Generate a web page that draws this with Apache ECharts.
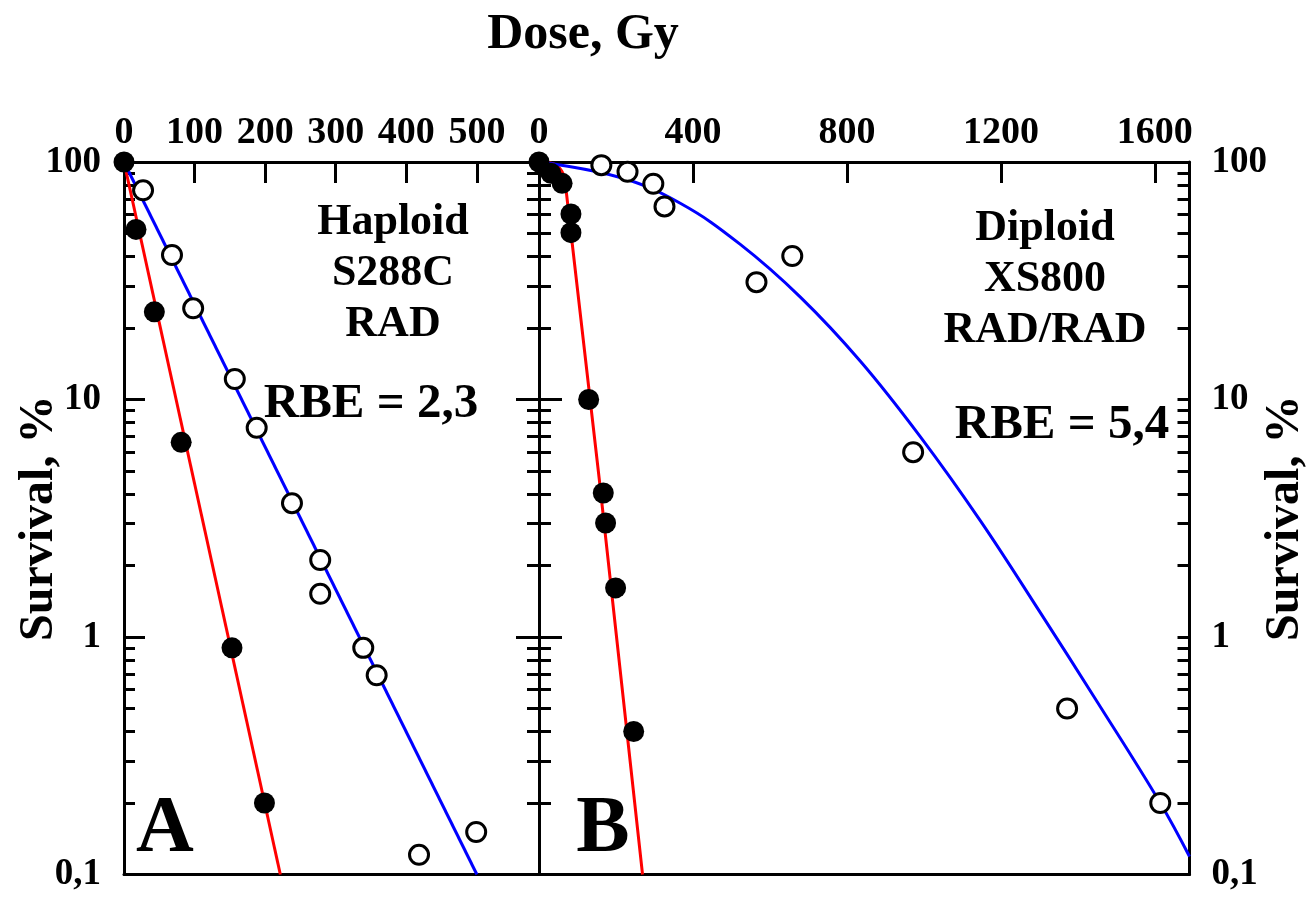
<!DOCTYPE html>
<html><head><meta charset="utf-8">
<script src="https://cdn.jsdelivr.net/npm/echarts@6/dist/echarts.min.js"></script>
<style>html,body{margin:0;padding:0;background:#fff}#c{width:1309px;height:898px}</style>
</head><body><div id="c"></div>
<script>
const FONT = "'Liberation Serif','Times New Roman','DejaVu Serif',serif";

// ---- tick values ----
const doseLabelsA = [0, 100, 200, 300, 400, 500];
const doseTicksA = [100, 200, 300, 400, 500];
const doseLabelsB = [0, 400, 800, 1200, 1600];
const doseTicksB = [400, 800, 1200, 1600];
const survivalLabels = [0.1, 1, 10, 100];
const survivalMajorTicks = [1, 10];
const survivalMinorTicks = [0.2,0.3,0.4,0.5,0.6,0.7,0.8,0.9, 2,3,4,5,6,7,8,9, 20,30,40,50,60,70,80,90];

// ---- Panel A: haploid S288C RAD ----
const aFilled = [[0,100],[17,52],[43,23.4],[81,6.6],[153,0.9],[199,0.2]];
const aOpen = [[27,76],[68,40.6],[98,24.2],[157,12.2],[188,7.6],[238,3.66],[278,2.11],[278,1.52],[339,0.9],[358,0.69],[418,0.121],[499,0.151]];
const aFitFilled = [[0,100],[221.5,0.1]];
const aFitOpen = [[0,100],[500,0.1]];

// ---- Panel B: diploid XS800 RAD/RAD ----
const bFilled = [[0,100],[31,89.6],[60,81.3],[83,60.4],[83,50.4],[129,10],[167,4.04],[173,3.02],[199,1.61],[246,0.4]];
const bOpen = [[162,97],[230,91],[297,81],[326,65],[565,31.2],[658,40.2],[972,6.0],[1372,0.5],[1614,0.2]];
const bFitFilled = [[0,100],[45,97],[67,85],[269,0.1]];
const bFitOpen = [[0,100],[211,86],[367,67],[523,45],[679,27],[835,14.5],[990,7],[1146,3.1],[1302,1.27],[1448,0.54],[1614,0.2],[1690,0.119]];

const LW = 3;
const labelFmt = v => String(v).replace('.', ',');

function xAx(grid, pos, max, labels, ticks) {
  return {
    type: 'value', gridIndex: grid, position: pos, min: 0, max: max,
    axisLine: { show: true, onZero: false, lineStyle: { color: '#000', width: LW } },
    axisTick: labels ? { show: true, inside: true, length: 21, customValues: ticks, lineStyle: { color: '#000', width: LW } } : { show: false },
    axisLabel: labels ? { show: true, customValues: labels, formatter: v => String(v), margin: 10, color: '#000', fontFamily: FONT, fontWeight: 'bold', fontSize: 38 } : { show: false },
    splitLine: { show: false }
  };
}
function yAx(grid, pos, opts) {
  return Object.assign({
    type: 'log', logBase: 10, gridIndex: grid, position: pos, min: 0.1, max: 100,
    axisLine: { show: false, onZero: false, lineStyle: { color: '#000', width: LW } },
    axisTick: { show: false },
    axisLabel: { show: false },
    splitLine: { show: false }
  }, opts);
}
function ticks(values, len) {
  return { show: true, inside: true, length: len, customValues: values, lineStyle: { color: '#000', width: LW } };
}
const axisLineOn = { show: true, onZero: false, lineStyle: { color: '#000', width: LW } };
const yLabel = (margin) => ({ show: true, customValues: survivalLabels, formatter: labelFmt, margin: margin, color: '#000', fontFamily: FONT, fontWeight: 'bold', fontSize: 37 });
const yName = { color: '#000', fontFamily: FONT, fontWeight: 'bold', fontSize: 48 };

const option = {
  backgroundColor: '#fff',
  animation: false,
  grid: [
    { left: 124, right: 770, top: 162, bottom: 23.5, containLabel: false, outerBoundsMode: 'none' },
    { left: 539, right: 119.5, top: 162, bottom: 23.5, containLabel: false, outerBoundsMode: 'none' }
  ],
  xAxis: [
    xAx(0, 'top', 588, doseLabelsA, doseTicksA),
    xAx(0, 'bottom', 588, null, null),
    xAx(1, 'top', 1690, doseLabelsB, doseTicksB),
    xAx(1, 'bottom', 1690, null, null)
  ],
  yAxis: [
    yAx(0, 'left', { axisLine: axisLineOn, axisTick: ticks(survivalMajorTicks, 21), axisLabel: yLabel(23),
      name: 'Survival, %', nameLocation: 'middle', nameRotate: 90, nameGap: 60, nameMoveOverlap: false, nameTextStyle: yName }),
    yAx(0, 'left', { axisTick: ticks(survivalMinorTicks, 11) }),
    yAx(0, 'right', { axisLine: axisLineOn, axisTick: ticks(survivalMajorTicks, 23) }),
    yAx(0, 'right', { axisTick: ticks(survivalMinorTicks, 12) }),
    yAx(1, 'left', { axisLine: axisLineOn, axisTick: ticks(survivalMajorTicks, 23) }),
    yAx(1, 'left', { axisTick: ticks(survivalMinorTicks, 12) }),
    yAx(1, 'right', { axisLine: axisLineOn, axisTick: ticks(survivalMajorTicks, 12), axisLabel: yLabel(22),
      name: 'Survival, %', nameLocation: 'middle', nameRotate: 90, nameGap: 72, nameMoveOverlap: false, nameTextStyle: yName }),
    yAx(1, 'right', { axisTick: ticks(survivalMinorTicks, 12) })
  ],
  graphic: [
    { type: 'text', style: { text: 'Dose, Gy', x: 583, y: 35, align: 'center', verticalAlign: 'middle', fill: '#000', font: 'bold 50px ' + FONT } },
    { type: 'text', style: { text: 'Haploid\nS288C\nRAD', x: 393, y: 274, align: 'center', verticalAlign: 'middle', lineHeight: 51, fill: '#000', font: 'bold 44px ' + FONT } },
    { type: 'text', style: { text: 'RBE = 2,3', x: 371, y: 404, align: 'center', verticalAlign: 'middle', fill: '#000', font: 'bold 49px ' + FONT } },
    { type: 'text', style: { text: 'A', x: 165, y: 830, align: 'center', verticalAlign: 'middle', fill: '#000', font: 'bold 80px ' + FONT } },
    { type: 'text', style: { text: 'Diploid\nXS800\nRAD/RAD', x: 1045, y: 280, align: 'center', verticalAlign: 'middle', lineHeight: 51, fill: '#000', font: 'bold 44px ' + FONT } },
    { type: 'text', style: { text: 'RBE = 5,4', x: 1062, y: 425, align: 'center', verticalAlign: 'middle', fill: '#000', font: 'bold 49px ' + FONT } },
    { type: 'text', style: { text: 'B', x: 603, y: 830, align: 'center', verticalAlign: 'middle', fill: '#000', font: 'bold 80px ' + FONT } }
  ],
  series: [
    { type: 'line', xAxisIndex: 0, yAxisIndex: 0, data: aFitFilled, showSymbol: false, lineStyle: { color: '#ff0000', width: 3 }, z: 2 },
    { type: 'line', xAxisIndex: 0, yAxisIndex: 0, data: aFitOpen, showSymbol: false, lineStyle: { color: '#0000ff', width: 3 }, z: 2 },
    { type: 'line', xAxisIndex: 2, yAxisIndex: 4, data: bFitFilled, showSymbol: false, smooth: 0.3, lineStyle: { color: '#ff0000', width: 3 }, z: 2 },
    { type: 'line', xAxisIndex: 2, yAxisIndex: 4, data: bFitOpen, showSymbol: false, smooth: 0.4, lineStyle: { color: '#0000ff', width: 3 }, z: 2 },
    { type: 'scatter', xAxisIndex: 0, yAxisIndex: 0, data: aOpen, clip: false, symbol: 'circle', symbolSize: 19, itemStyle: { color: '#fff', borderColor: '#000', borderWidth: 3, opacity: 1 }, z: 3 },
    { type: 'scatter', xAxisIndex: 2, yAxisIndex: 4, data: bOpen, clip: false, symbol: 'circle', symbolSize: 19, itemStyle: { color: '#fff', borderColor: '#000', borderWidth: 3, opacity: 1 }, z: 3 },
    { type: 'scatter', xAxisIndex: 0, yAxisIndex: 0, data: aFilled, clip: false, symbol: 'circle', symbolSize: 21, itemStyle: { color: '#000', opacity: 1 }, z: 4 },
    { type: 'scatter', xAxisIndex: 2, yAxisIndex: 4, data: bFilled, clip: false, symbol: 'circle', symbolSize: 21, itemStyle: { color: '#000', opacity: 1 }, z: 4 }
  ]
};
const chart = echarts.init(document.getElementById('c'), null, { renderer: 'canvas' });
chart.setOption(option);
</script></body></html>
